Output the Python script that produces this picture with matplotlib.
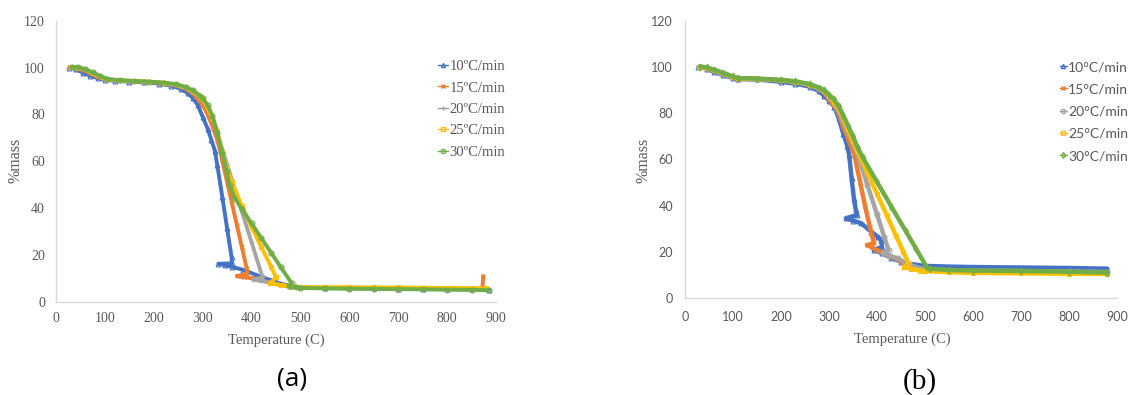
import matplotlib.pyplot as plt
from matplotlib.lines import Line2D

# colours (Excel default palette)
colors = ['#4472C4', '#ED7D31', '#A5A5A5', '#FFC000', '#70AD47']
rates_a = ['10ºC/min', '15ºC/min', '20ºC/min', '25ºC/min', '30ºC/min']
rates_b = ['10°C/min', '15°C/min', '20°C/min', '25°C/min', '30°C/min']

# ---- panel (a) : temperature (C) / %mass ----
a10_t = [27, 40, 55, 70, 85, 100, 120, 150, 180, 210, 235, 255, 270, 280, 290, 300, 310, 318, 325, 330,
         340, 350, 359, 360, 332, 345, 360, 383, 410, 438, 460, 480, 500, 550, 600, 650, 700, 750, 800,
         850, 885]
a10_m = [100, 99.4, 97.8, 96.5, 95.5, 94.8, 94.3, 94, 93.7, 93.2, 92.3, 91, 89, 87, 84, 79, 74, 69, 64.5,
         58.3, 45, 31.4, 19.3, 16.5, 16.3, 15.8, 15, 13.7, 11.5, 9.4, 7.8, 6.8, 6.2, 6, 5.9, 5.8, 5.7, 5.6,
         5.5, 5.4, 5.3]

a15_t = [28, 40, 55, 70, 85, 100, 120, 150, 180, 210, 235, 255, 270, 285, 300, 310, 320, 330, 335, 340,
         350, 360, 370, 380, 390, 391, 370, 385, 404, 420, 440, 460, 480, 500, 550, 600, 650, 700, 750,
         800, 850, 872, 874]
a15_m = [100.3, 100, 99, 97.5, 96, 95, 94.6, 94.3, 94, 93.6, 92.8, 91.8, 90.5, 88, 84, 80, 75, 69, 65,
         60.4, 51.2, 42, 32.8, 23.6, 14.4, 12, 11.1, 10.5, 10.1, 9.2, 8.2, 7.2, 6.5, 6.1, 6, 6, 5.9, 5.9,
         5.8, 5.7, 5.6, 5.6, 11]

a20_t = [30, 45, 60, 75, 90, 105, 130, 160, 190, 220, 245, 265, 280, 295, 300, 310, 320, 330, 342, 350,
         360, 380, 400, 421, 423, 403, 420, 440, 460, 480, 500, 550, 600, 650, 700, 750, 800, 850, 880]
a20_m = [100.3, 100, 99, 97.5, 96, 94.8, 94.4, 94.2, 93.9, 93.4, 92.5, 91.3, 89.7, 87, 86, 83, 78, 72,
         64, 58.7, 52, 38.7, 25.5, 11.5, 10.5, 9.5, 9, 8.2, 7.2, 6.5, 6.1, 5.9, 5.8, 5.7, 5.6, 5.5, 5.4,
         5.3, 5.2]

a25_t = [30, 45, 60, 75, 90, 105, 130, 160, 190, 220, 245, 265, 280, 295, 300, 310, 320, 330, 340, 350,
         360, 380, 400, 420, 440, 450, 438, 460, 480, 500, 550, 600, 650, 700, 750, 800, 850, 880]
a25_m = [100.3, 100, 99.2, 97.8, 96.2, 95, 94.6, 94.3, 94, 93.6, 92.8, 91.6, 90, 87.5, 86.5, 83, 78.5,
         73, 64, 57, 51, 41, 32, 23.5, 15, 10.5, 8, 7.2, 6.7, 6.4, 6.3, 6.3, 6.2, 6.2, 6.1, 6, 5.9, 5.8]

a30_t = [32, 45, 60, 75, 90, 105, 130, 160, 190, 220, 245, 265, 280, 295, 300, 310, 320, 330, 340, 349,
         355, 365, 380, 400, 420, 440, 460, 482, 476, 490, 500, 550, 600, 650, 700, 750, 800, 850, 885]
a30_m = [100.3, 100.1, 99.3, 98, 96.5, 95.2, 94.6, 94.3, 94, 93.6, 92.9, 91.8, 90.3, 88, 87, 84, 79.5,
         72, 63.5, 56, 50, 44.5, 39.7, 33.5, 27.3, 21, 14.8, 8, 6.8, 6.3, 6, 5.8, 5.7, 5.6, 5.5, 5.4,
         5.3, 5.2, 5.0]

# ---- panel (b) ----
b10_t = [28, 45, 60, 80, 100, 110, 150, 200, 230, 260, 280, 290, 300, 311, 320, 330, 338, 342, 347, 352,
         356, 359, 335, 350, 367, 388, 403, 409, 410, 393, 410, 430, 450, 470, 500, 550, 600, 700, 800,
         880]
b10_m = [100, 99.3, 98, 96.5, 95.2, 94.8, 94.6, 93.6, 92.8, 91.5, 89.5, 87.5, 85.5, 82.8, 78, 71, 66, 62,
         52, 43, 38, 36, 34.6, 33.6, 32.4, 28.8, 26.4, 25, 22, 21, 19.5, 17.5, 15.8, 14.8, 14, 13.7, 13.5,
         13.3, 13.1, 12.8]

b15_t = [29, 45, 60, 80, 100, 110, 150, 200, 230, 260, 280, 290, 300, 310, 320, 330, 340, 353, 365, 375,
         385, 391, 393, 379, 390, 400, 410, 430, 450, 465, 480, 500, 550, 600, 700, 800, 880]
b15_m = [100, 99.5, 98.5, 97, 95.5, 95, 94.8, 94.2, 93.6, 92.2, 90.5, 89, 86, 83.5, 80, 74, 69, 62, 50,
         40, 31, 26, 23.8, 23, 22, 20.8, 19.8, 18, 16, 14.2, 13, 12, 11.6, 11.4, 11.2, 11, 10.7]

b20_t = [30, 45, 60, 80, 100, 110, 150, 200, 230, 260, 280, 290, 300, 310, 320, 330, 340, 350, 360, 380,
         400, 415, 424, 412, 425, 443, 460, 480, 500, 550, 600, 700, 800, 880]
b20_m = [100, 99.5, 98.5, 97, 95.5, 95, 94.8, 94.2, 93.6, 92.2, 90.5, 89.5, 87, 84.5, 81, 76.5, 71.5,
         67, 62, 49, 36.3, 26.6, 20.9, 19.5, 18.5, 17.3, 15.2, 13.5, 12.6, 12.2, 12, 11.8, 11.6, 11.4]

b25_t = [30, 45, 60, 80, 100, 110, 150, 200, 230, 260, 280, 290, 300, 310, 320, 330, 340, 350, 360, 380,
         400, 420, 440, 455, 466, 456, 470, 490, 500, 550, 600, 700, 800, 880]
b25_m = [100, 99.6, 98.7, 97.2, 95.7, 95.1, 94.9, 94.3, 93.7, 92.4, 90.8, 89.8, 87.5, 85, 82, 78, 73, 68,
         63.5, 54.3, 45.2, 36, 26.9, 20, 15, 13.5, 12.8, 12, 11.8, 11.3, 11, 10.8, 10.6, 10.5]

b30_t = [32, 45, 60, 80, 100, 110, 150, 200, 230, 260, 280, 290, 300, 310, 320, 330, 340, 350, 360, 370,
         400, 430, 460, 480, 503, 510, 550, 600, 700, 800, 880]
b30_m = [100.2, 99.8, 98.9, 97.4, 95.9, 95.2, 95, 94.4, 93.8, 92.6, 91, 90, 88, 86, 83, 79, 74.5, 70, 65,
         61, 50.3, 39.6, 29, 21.9, 13.7, 12.8, 12.2, 12, 11.8, 11.5, 11.1]

series_a = [(a10_t, a10_m), (a15_t, a15_m), (a20_t, a20_m), (a25_t, a25_m), (a30_t, a30_m)]
series_b = [(b10_t, b10_m), (b15_t, b15_m), (b20_t, b20_m), (b25_t, b25_m), (b30_t, b30_m)]
markers_a = ['^', 'x', '+', 's', 'o']
markers_b = ['^', 'x', 'o', 's', 'd']

serif = ['Liberation Serif', 'DejaVu Serif']
sans = ['Lato', 'DejaVu Sans']
grey_txt = '#595959'

W, H = 1130, 395
fig = plt.figure(figsize=(W / 100, H / 100), dpi=100)


def style_axes(ax, tick_font, tick_size, xpad, ypad):
    ax.set_xlim(0, 900)
    ax.set_ylim(0, 120)
    ax.set_xticks(range(0, 901, 100))
    ax.set_yticks(range(0, 121, 20))
    for s in ['top', 'right']:
        ax.spines[s].set_visible(False)
    for s in ['left', 'bottom']:
        ax.spines[s].set_color('#D9D9D9')
        ax.spines[s].set_linewidth(1.0)
    ax.tick_params(length=0, labelcolor=grey_txt, labelsize=tick_size)
    ax.tick_params(axis='x', pad=xpad)
    ax.tick_params(axis='y', pad=ypad)
    for lab in ax.get_xticklabels() + ax.get_yticklabels():
        lab.set_family(tick_font)


def draw(ax, series, markers, lw):
    for (t, m), c, mk in zip(series, colors, markers):
        ax.plot(t, m, color=c, lw=lw, solid_capstyle='round', solid_joinstyle='round',
                marker=mk, ms=3.5, mfc='none', mec=c, mew=0.8)


# panel (a)
axa = fig.add_axes([56 / W, 1 - 302 / H, 440 / W, (302 - 20.7) / H])
draw(axa, series_a, markers_a, 2.8)
style_axes(axa, serif, 10, 7.5, 8)

# panel (b)
axb = fig.add_axes([685 / W, 1 - 298.3 / H, 432 / W, (298.3 - 20.7) / H])
draw(axb, series_b, markers_b, 3.2)
style_axes(axb, sans, 9, 9.5, 8.5)

# axis labels
fig.text(276 / W, 1 - 340 / H, 'Temperature (C)', family=serif, size=10.5, color=grey_txt,
         ha='center', va='center')
fig.text(902 / W, 1 - 339 / H, 'Temperature (C)', family=serif, size=10.5, color=grey_txt,
         ha='center', va='center')
fig.text(16 / W, 1 - 160 / H, '%mass', family=serif, size=11.5, color=grey_txt,
         ha='center', va='center', rotation=90)
fig.text(643 / W, 1 - 160 / H, '%mass', family=serif, size=11.5, color=grey_txt,
         ha='center', va='center', rotation=90)

# panel letters
fig.text(291.7 / W, 1 - 379 / H, '(a)', family=['Open Sans', 'DejaVu Sans'], size=19,
         ha='center', va='center')
fig.text(920 / W, 1 - 382 / H, '(b)', family=serif, size=21, ha='center', va='center')

# legends
handles_a = [Line2D([], [], color=c, lw=1, marker=mk, ms=3, mfc='none', mec=c)
             for c, mk in zip(colors, markers_a)]
handles_b = [Line2D([], [], color=c, lw=1, marker=mk, ms=3, mfc='none', mec=c)
             for c, mk in zip(colors, markers_b)]
leg_a = fig.legend(handles_a, rates_a, loc='upper left', bbox_to_anchor=(438 / W, 1 - 60 / H),
                   frameon=False, borderpad=0, borderaxespad=0, handlelength=0.7,
                   handletextpad=0.08, labelspacing=0.56,
                   prop={'family': serif, 'size': 10.5})
for t in leg_a.get_texts():
    t.set_color(grey_txt)
leg_b = fig.legend(handles_b, rates_b, loc='upper left', bbox_to_anchor=(1060 / W, 1 - 61 / H),
                   frameon=False, borderpad=0, borderaxespad=0, handlelength=0.5,
                   handletextpad=0.08, labelspacing=0.74,
                   prop={'family': sans, 'size': 10})
for t in leg_b.get_texts():
    t.set_color(grey_txt)

fig.savefig('out.png', dpi=100)
